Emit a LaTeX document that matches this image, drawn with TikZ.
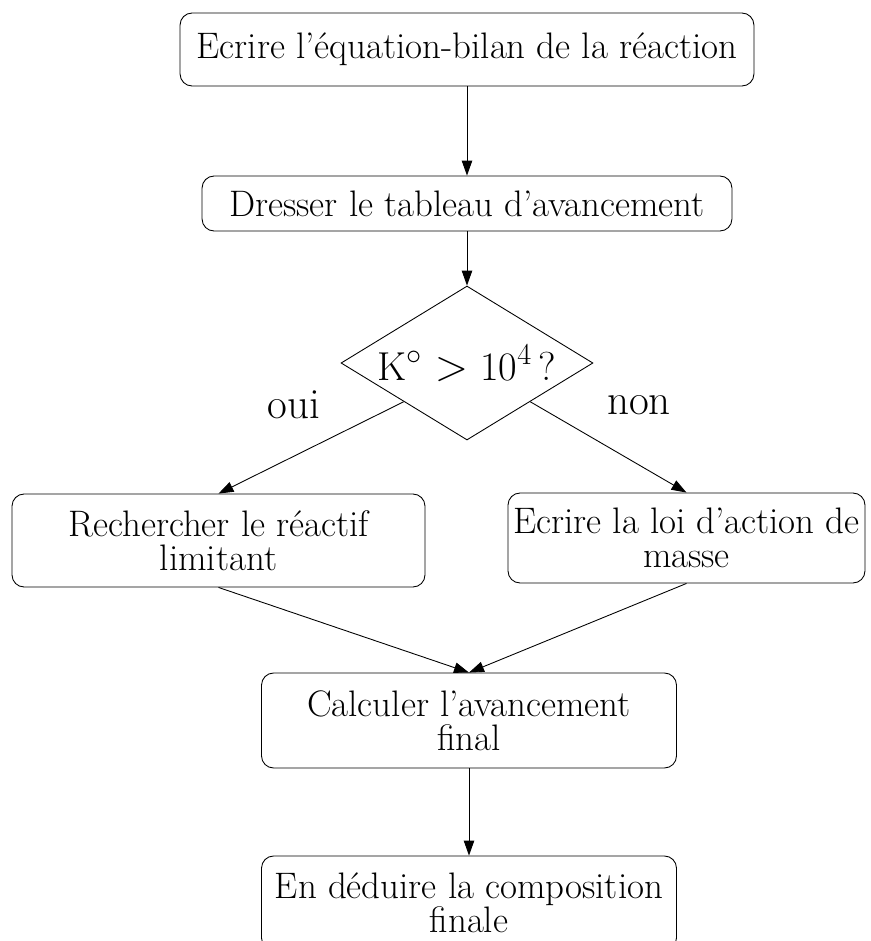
\documentclass[tikz,border=0pt]{standalone}
\usetikzlibrary{shapes.geometric,arrows.meta}
\begin{document}
\begin{tikzpicture}[x=0.02cm,y=-0.02cm,line width=0.5pt,
    box/.style={draw,rounded corners=0.24cm,align=center,inner sep=0pt,font=\fontsize{21}{19.5}\selectfont},
    test/.style={draw,diamond,shape aspect=1.64,inner sep=0pt,minimum width=5.04cm,minimum height=3.08cm,font=\fontsize{23}{24}\selectfont},
    lbl/.style={font=\fontsize{24.5}{26}\selectfont},
    fl/.style={-{Triangle[length=0.3cm,width=0.21cm]}}]
    \useasboundingbox (0,0) rectangle (871,941);
    \clip (0,0) rectangle (871,941);
    \node[box,minimum width=11.48cm,minimum height=1.46cm] (eq) at (467,49.5) {Ecrire l'équation-bilan de la réaction};
    \node[box,minimum width=10.6cm,minimum height=1.1cm] (tab) at (467,203.5) {Dresser le tableau d'avancement};
    \node[test] (k) at (467,363) {K$^{\circ}$ $>$ 10$^{4}$\,?};
    \node[lbl] (oui) at (294,405) {oui};
    \node[lbl] (non) at (639,405) {non};
    \node[box,minimum width=8.26cm,minimum height=1.86cm] (lim) at (218.5,540.5) {Rechercher le réactif\\limitant};
    \node[box,minimum width=7.14cm,minimum height=1.8cm] (lam) at (686.5,538) {Ecrire la loi d'action de\\masse};
    \node[box,minimum width=8.3cm,minimum height=1.9cm] (cal) at (469,720.5) {Calculer l'avancement\\final};
    \node[box,minimum width=8.3cm,minimum height=1.88cm] (comp) at (469,903) {En déduire la composition\\finale};
    % liaisons
    \draw[fl] (eq) -- (tab);
    \draw[fl] (tab) -- (k);
    \draw[fl] (k.south west) -- (lim.north);
    \draw[fl] (k.south east) -- (lam.north);
    \draw[fl] (lim.south) -- (cal.north);
    \draw[fl] (lam.south) -- (cal.north);
    \draw[fl] (cal) -- (comp);
\end{tikzpicture}
\end{document}
